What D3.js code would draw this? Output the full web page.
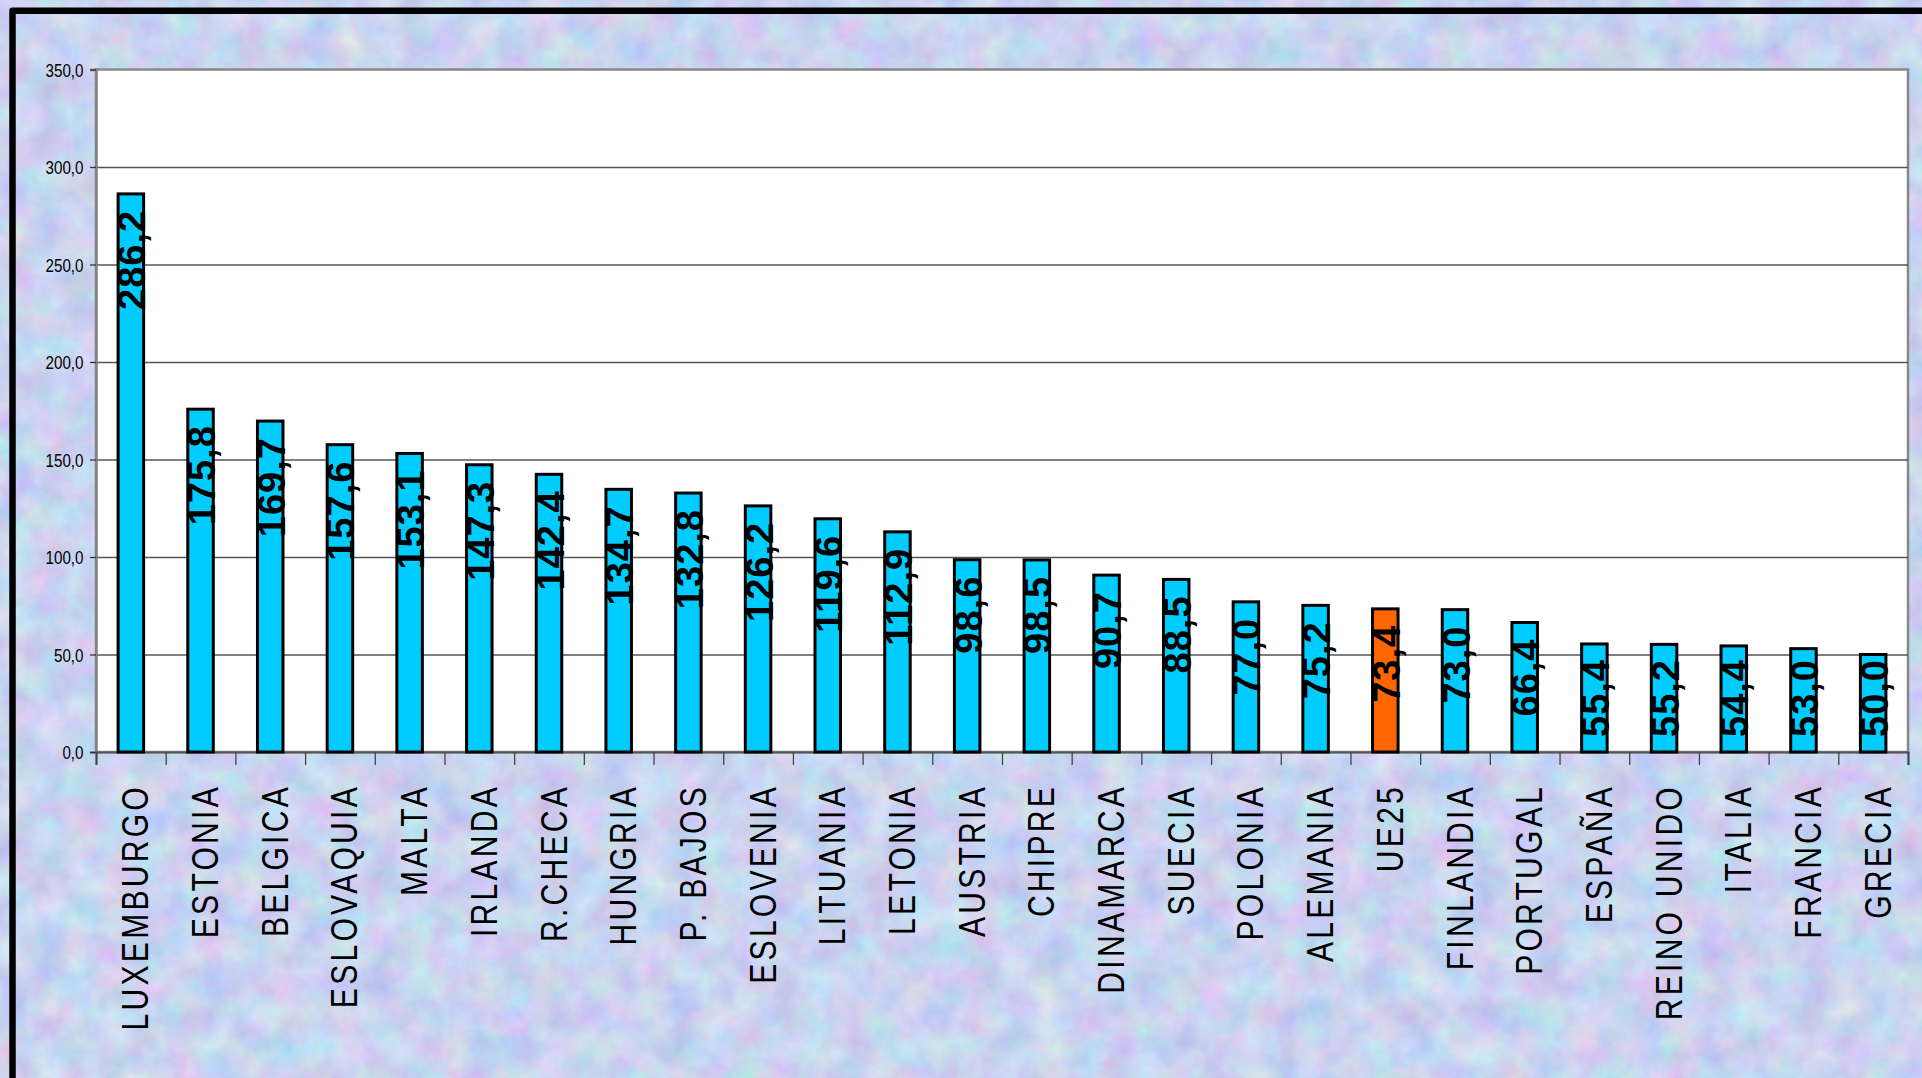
<!DOCTYPE html>
<html>
<head>
<meta charset="utf-8">
<title>UE25</title>
<script src="https://cdn.jsdelivr.net/npm/d3@7"></script>
<style>
body { margin: 0; overflow: hidden; background: #c8d5f1; }
svg { display: block; }
</style>
</head>
<body>
<svg width="1922" height="1078"></svg>
<script>
// datos del grafico
var paises = ["LUXEMBURGO", "ESTONIA", "BELGICA", "ESLOVAQUIA", "MALTA", "IRLANDA", "R.CHECA",
              "HUNGRIA", "P. BAJOS", "ESLOVENIA", "LITUANIA", "LETONIA", "AUSTRIA", "CHIPRE",
              "DINAMARCA", "SUECIA", "POLONIA", "ALEMANIA", "UE25", "FINLANDIA", "PORTUGAL",
              "ESPAÑA", "REINO UNIDO", "ITALIA", "FRANCIA", "GRECIA"];
var valores = [286.2, 175.8, 169.7, 157.6, 153.1, 147.3, 142.4, 134.7, 132.8, 126.2, 119.6, 112.9,
               98.6, 98.5, 90.7, 88.5, 77.0, 75.2, 73.4, 73.0, 66.4, 55.4, 55.2, 54.4, 53.0, 50.0];
var yTicks = [0, 50, 100, 150, 200, 250, 300, 350];
var destacado = "UE25";

var width = 1922, height = 1078;
var plotLeft = 96, plotRight = 1908, plotTop = 69.5, plotBottom = 752;
var colorBarra = "#00ccff";
var colorDestacado = "#ff6600";

var svg = d3.select("svg");
var coma = function(v){ return d3.format(".1f")(v).replace(".", ","); };

//fondo con textura
var defs = svg.append("defs");
var textura = defs.append("filter")
    .attr("id", "textura")
    .attr("x", 0).attr("y", 0).attr("width", "100%").attr("height", "100%")
    .attr("color-interpolation-filters", "sRGB");
textura.append("feTurbulence")
    .attr("type", "fractalNoise")
    .attr("baseFrequency", "0.03")
    .attr("numOctaves", 4)
    .attr("seed", 7);
textura.append("feColorMatrix")
    .attr("type", "matrix")
    .attr("values", "0.28 0 0 0 0.65  0 0.24 0 0 0.71  0 0 0.12 0 0.88  0 0 0 0 1");
svg.append("rect")
    .attr("width", width)
    .attr("height", height)
    .attr("filter", "url(#textura)");

//marco negro
svg.append("path")
    .attr("d", "M12.5," + (height + 5) + " L12.5,10.7 L" + (width + 5) + ",10.7")
    .attr("fill", "none")
    .attr("stroke", "#000")
    .attr("stroke-width", 6.5)
    .attr("stroke-linejoin", "round");

//escalas
var x = d3.scaleBand()
    .domain(paises)
    .range([plotLeft, plotRight])
    .paddingInner(0.634)
    .paddingOuter(0.317);
var xBordes = d3.scaleLinear().domain([0, paises.length]).range([plotLeft, plotRight]);
var y = d3.scaleLinear().domain([0, 350]).range([plotBottom, plotTop]);

//area del grafico
svg.append("rect")
    .attr("x", plotLeft)
    .attr("y", plotTop)
    .attr("width", plotRight - plotLeft)
    .attr("height", plotBottom - plotTop)
    .attr("fill", "#fff")
    .attr("stroke", "#888")
    .attr("stroke-width", 2.5);

//lineas de division
var grid = svg.append("g")
    .attr("transform", "translate(" + plotLeft + ",0)")
    .call(d3.axisLeft(y).tickValues(yTicks.slice(1, -1)).tickSize(-(plotRight - plotLeft)).tickFormat(""));
grid.select(".domain").remove();
grid.selectAll("line").attr("stroke", "#555").attr("stroke-width", 1.4);

//eje y
var ejeY = svg.append("g")
    .attr("transform", "translate(" + plotLeft + ",0)")
    .call(d3.axisLeft(y).tickValues(yTicks).tickSize(6).tickFormat(coma));
ejeY.select(".domain").attr("stroke", "#808080").attr("stroke-width", 2.3);
ejeY.selectAll("line").attr("stroke", "#333").attr("stroke-width", 1.3);
ejeY.selectAll("text")
    .attr("x", 0)
    .attr("dy", "0.35em")
    .attr("transform", "translate(-12.5,0) scale(0.8,1)")
    .attr("fill", "#000")
    .style("font-family", "'Liberation Sans', Arial, sans-serif")
    .style("font-size", "19px");

//eje x con marcas entre categorias
var ejeX = svg.append("g")
    .attr("transform", "translate(0," + plotBottom + ")")
    .call(d3.axisBottom(xBordes).tickValues(d3.range(0, paises.length + 1)).tickSize(13).tickFormat(""));
ejeX.select(".domain").attr("stroke", "#555").attr("stroke-width", 2.2);
ejeX.selectAll("line").attr("stroke", "#444").attr("stroke-width", 1.3);

//barras
var barras = svg.selectAll(".barra").data(valores).enter().append("g").attr("class", "barra");
barras.append("rect")
    .attr("x", function(d, i){ return x(paises[i]); })
    .attr("y", function(d){ return y(d); })
    .attr("width", x.bandwidth())
    .attr("height", function(d){ return plotBottom - y(d); })
    .attr("fill", function(d, i){ return paises[i] == destacado ? colorDestacado : colorBarra; })
    .attr("stroke", "#000")
    .attr("stroke-width", 3);

//etiquetas de valor
barras.append("text")
    .text(function(d){ return coma(d); })
    .attr("text-anchor", "end")
    .attr("fill", "#000")
    .style("font-family", "'Liberation Sans', Arial, sans-serif")
    .style("font-weight", "bold")
    .style("font-size", "38px")
    .style("letter-spacing", "1px")
    .attr("transform", function(d, i){
        var cx = x(paises[i]) + x.bandwidth() / 2;
        var largo = this.getComputedTextLength();
        var arriba = Math.min(y(d) + 16, plotBottom - 15 - largo);
        return "translate(" + (cx + 14.5) + "," + arriba + ") rotate(-90)";
    });

//nombres de paises
svg.selectAll(".pais").data(paises).enter().append("text")
    .attr("class", "pais")
    .text(function(d){ return d; })
    .attr("text-anchor", "end")
    .attr("fill", "#000")
    .style("font-family", "'Liberation Sans', Arial, sans-serif")
    .style("font-size", "37px")
    .style("letter-spacing", "4px")
    .attr("transform", function(d){
        var cx = x(d) + x.bandwidth() / 2;
        return "translate(" + (cx + 17.5) + ",784) rotate(-90) scale(0.813,1)";
    });
</script>
</body>
</html>
